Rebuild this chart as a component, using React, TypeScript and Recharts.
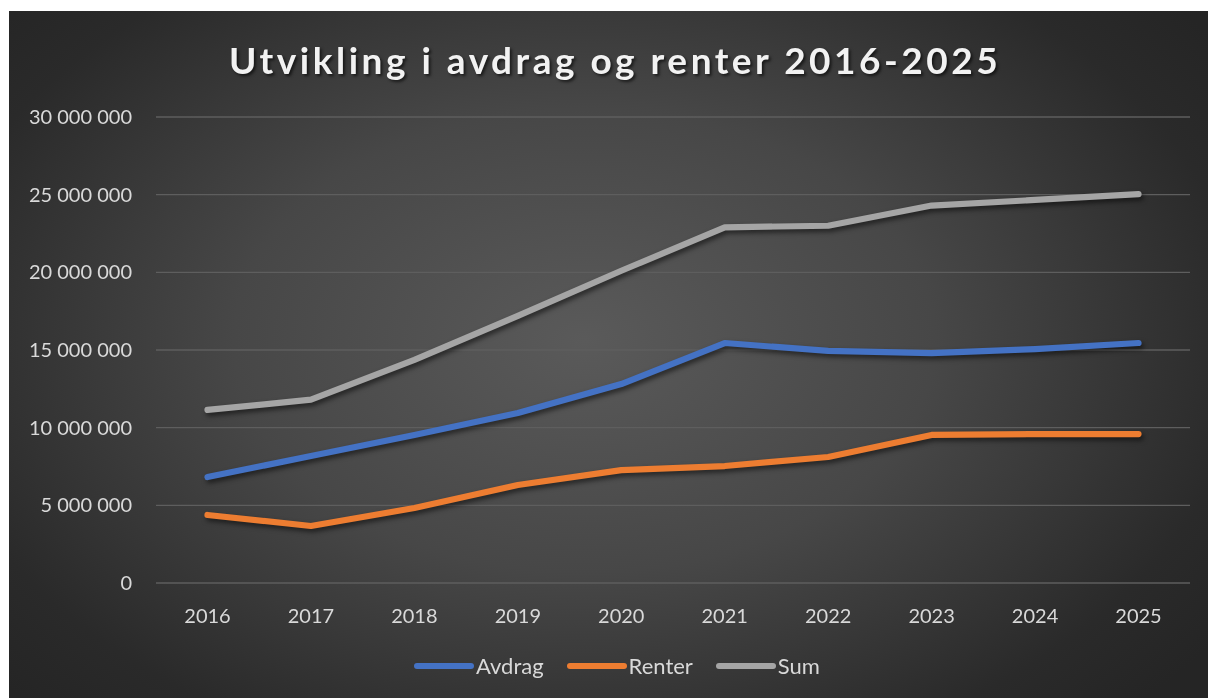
import React from 'react';
import { LineChart, Line, XAxis, YAxis, CartesianGrid } from 'recharts';

const years = ['2016', '2017', '2018', '2019', '2020', '2021', '2022', '2023', '2024', '2025'];
const avdrag = [6820000, 8180000, 9530000, 10940000, 12810000, 15450000, 14940000, 14800000, 15060000, 15450000];
const renter = [4380000, 3670000, 4830000, 6310000, 7270000, 7530000, 8110000, 9530000, 9590000, 9590000];
const sum = [11140000, 11800000, 14360000, 17200000, 20100000, 22900000, 23000000, 24300000, 24660000, 25040000];
const yTicks = [0, 5000000, 10000000, 15000000, 20000000, 25000000, 30000000];
const seriesKeys = ['Avdrag', 'Renter', 'Sum'];
const seriesColors = ['#4472C4', '#ED7D31', '#A5A5A5'];
const title = 'Utvikling i avdrag og renter 2016-2025';

const data = years.map((y, i) => ({ year: y, Avdrag: avdrag[i], Renter: renter[i], Sum: sum[i] }));

const fmt = (v: number) =>
  Math.round(v).toString().replace(/\B(?=(\d{3})+(?!\d))/g, ' ');

const FONT = 'Lato, "Open Sans", sans-serif';

export default function App() {
  return (
    <div
      style={{
        position: 'fixed',
        left: 9,
        top: 11,
        width: 1199,
        height: 687,
        overflow: 'hidden',
        background:
          'radial-gradient(ellipse 65% 75% at 48% 48%, #5a5a5a 0%, #474747 45%, #2a2a2a 85%, #252525 100%)',
        fontFamily: FONT,
      }}
    >
      <style>{`.recharts-line-curve { filter: drop-shadow(2px 3px 2.5px rgba(0,0,0,0.55)); }`}</style>
      <div
        style={{
          position: 'absolute',
          left: 2,
          width: 1208,
          top: 26,
          textAlign: 'center',
          color: '#f2f2f2',
          fontWeight: 700,
          fontSize: 37,
          letterSpacing: 3.5,
          textShadow: '2px 2px 3px rgba(0,0,0,0.6)',
          whiteSpace: 'nowrap',
        }}
      >
        {title}
      </div>
      <LineChart
        width={1199}
        height={687}
        data={data}
        margin={{ top: 106, right: 18, bottom: 85, left: 0 }}
      >
        <CartesianGrid vertical={false} stroke="#5e5e5e" strokeWidth={1.3} />
        <XAxis
          dataKey="year"
          height={30}
          padding={{ left: 51.5, right: 51.5 }}
          axisLine={false}
          tickLine={false}
          tickMargin={20}
          tick={{ fill: '#d9d9d9', fontSize: 20, fontFamily: FONT }}
        />
        <YAxis
          width={147}
          domain={[0, 30000000]}
          ticks={yTicks}
          axisLine={false}
          tickLine={false}
          tickMargin={18}
          tickFormatter={fmt}
          tick={{ fill: '#d9d9d9', fontSize: 20, fontFamily: FONT }}
        />
        {seriesKeys.map((k, i) => (
          <Line
            key={k}
            type="linear"
            dataKey={k}
            stroke={seriesColors[i]}
            strokeWidth={6.2}
            strokeLinecap="round"
            strokeLinejoin="round"
            dot={false}
            activeDot={false}
            isAnimationActive={false}
          />
        ))}
      </LineChart>
      <div
        style={{
          position: 'absolute',
          left: 404,
          top: 641,
          display: 'flex',
          alignItems: 'center',
          color: '#d9d9d9',
          fontSize: 22,
          whiteSpace: 'nowrap',
        }}
      >
        {seriesKeys.map((k, i) => (
          <div key={k} style={{ display: 'flex', alignItems: 'center', marginRight: 22 }}>
            <svg width={62} height={10} style={{ display: 'block' }}>
              <line x1={4} y1={5} x2={58} y2={5} stroke={seriesColors[i]} strokeWidth={6} strokeLinecap="round" />
            </svg>
            <span style={{ marginLeft: 1 }}>{k}</span>
          </div>
        ))}
      </div>
    </div>
  );
}
